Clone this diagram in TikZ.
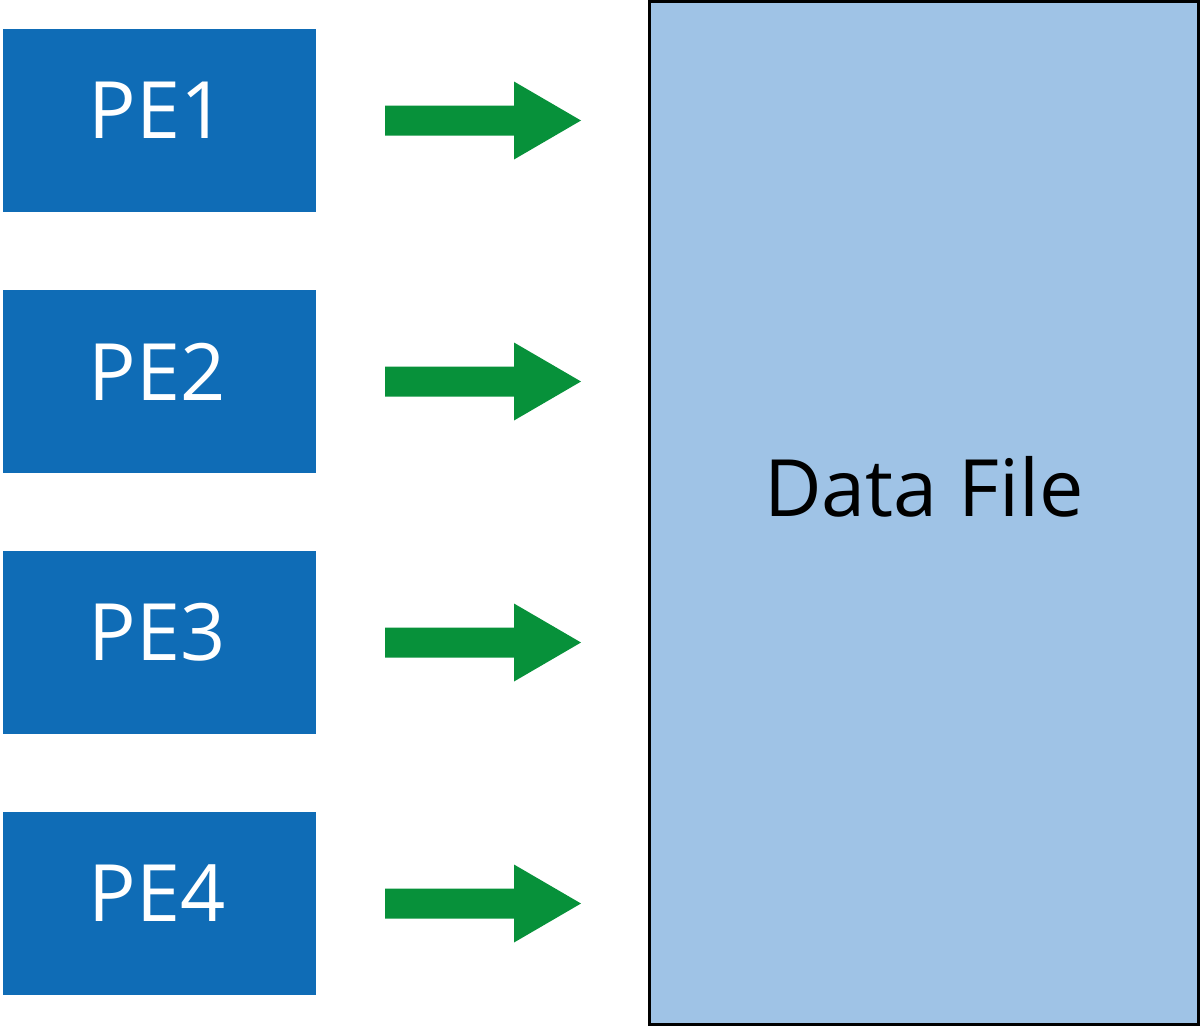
\documentclass[tikz,border=0pt]{standalone}
\usepackage{fontspec}
\setmainfont{Open Sans}
\definecolor{peblue}{HTML}{0F6CB6}
\definecolor{arrgreen}{HTML}{07913A}
\definecolor{filebg}{HTML}{9FC3E6}
\begin{document}
\begin{tikzpicture}[x=0.01cm,y=-0.01cm,
  pebox/.style={fill=peblue,draw=none,minimum width=3.13cm,minimum height=1.83cm,inner sep=0pt},
  petext/.style={text=white,inner sep=0pt,font=\fontsize{22.5}{27}\selectfont},
  filebox/.style={fill=filebg,draw=black,line width=0.8pt,minimum width=5.48cm,minimum height=10.22cm,inner sep=0pt},
  filetext/.style={inner sep=0pt,font=\fontsize{22.5}{27}\selectfont},
  bigarrow/.style={fill=arrgreen,draw=none}]
\useasboundingbox (0,0) rectangle (1200,1027);
\node[filebox] (file) at (924,513) {};
\node[filetext] (filelabel) at (924,487) {\vphantom{D}Data File};
\foreach \i/\y in {1/120.5,2/381.5,3/642.5,4/903.5}{
  \node[pebox] (pe\i) at (159.5,\y) {};
  \node[petext] (pelabel\i) at (157,\y-10) {PE\i};
  \fill[bigarrow] (385,\y-15) -- (514,\y-15) -- (514,\y-39) -- (581,\y) -- (514,\y+39) -- (514,\y+15) -- (385,\y+15) -- cycle;
}
\end{tikzpicture}
\end{document}
